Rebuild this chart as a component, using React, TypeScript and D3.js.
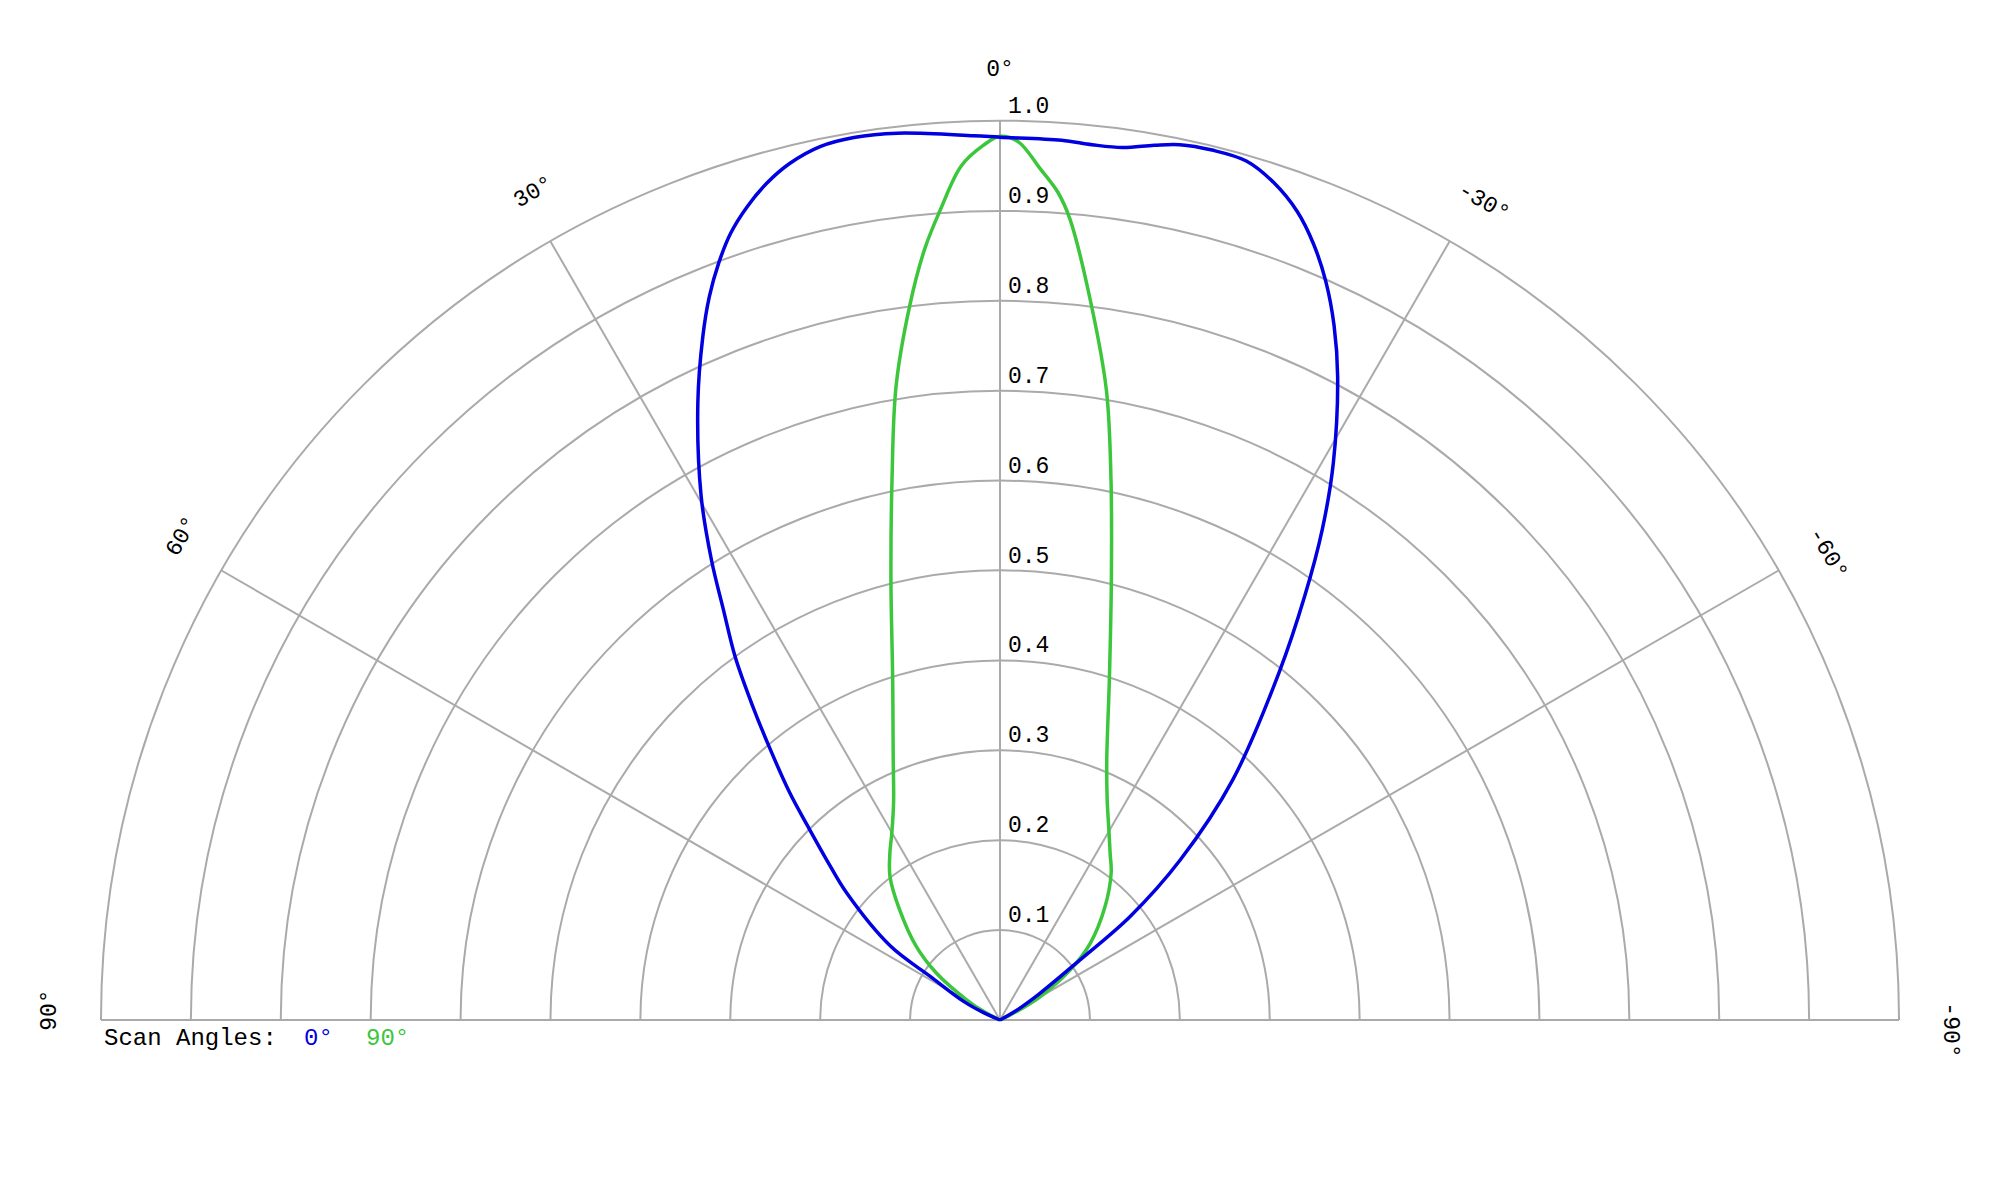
import React from 'react';
import * as d3 from 'd3';

// scan angle 0° (blue) — polar angle in degrees (+ = left), normalised value
const blueAngles = [90, 66, 63, 58, 56, 50.4, 47.3, 44.8, 42.8, 40.1, 38.1, 36.1, 34, 32.1, 29.7, 26.1, 23.5, 21.9, 20.4, 18.9, 17.3, 15.6, 13.8, 11.6, 9.4, 6.6, 1.7, 0, -4, -6, -8, -10, -11.6, -13.7, -16, -18.1, -20.2, -22, -23.8, -25.7, -27.7, -30.9, -33.3, -35.7, -38.8, -44.1, -48.4, -51.5, -53.1, -56.3, -60, -90];
const blueValues = [0, 0.02, 0.045, 0.092, 0.147, 0.221, 0.262, 0.303, 0.344, 0.4, 0.448, 0.5, 0.55, 0.604, 0.671, 0.764, 0.829, 0.867, 0.898, 0.925, 0.947, 0.966, 0.981, 0.992, 0.995, 0.993, 0.984, 0.982, 0.981, 0.979, 0.98, 0.988, 0.994, 0.996, 0.994, 0.98, 0.958, 0.931, 0.898, 0.857, 0.808, 0.722, 0.653, 0.581, 0.495, 0.372, 0.268, 0.185, 0.111, 0.053, 0.02, 0];

// scan angle 90° (green)
const greenAngles = [90, 63, 59, 53.6, 48.7, 42.3, 37.5, 33.5, 30.1, 26, 22.3, 17.5, 13.9, 11.3, 9.3, 7.2, 5.6, 4.2, 2.6, 1.1, 0, -1.2, -2.7, -4, -5, -7.3, -9.6, -11.6, -14.2, -17.8, -22.3, -26, -29.3, -33.5, -37.1, -42.8, -49.6, -54.5, -59.8, -63, -90];
const greenValues = [0, 0.02, 0.043, 0.088, 0.124, 0.166, 0.201, 0.222, 0.24, 0.27, 0.313, 0.397, 0.505, 0.613, 0.715, 0.801, 0.861, 0.904, 0.951, 0.973, 0.983, 0.977, 0.948, 0.923, 0.894, 0.801, 0.71, 0.614, 0.505, 0.398, 0.313, 0.272, 0.247, 0.222, 0.205, 0.172, 0.132, 0.096, 0.052, 0.02, 0];

const ringValues = [0.1, 0.2, 0.3, 0.4, 0.5, 0.6, 0.7, 0.8, 0.9, 1.0];
const spokeAngles = [60, 30, 0, -30, -60];
const angleLabels = [90, 60, 30, 0, -30, -60, -90];

const W = 2000;
const H = 1200;
const CX = 1000;
const CY = 1020;
const R = 899;
const FONT = '"Liberation Mono", "Courier New", monospace';
const GRID = '#aaaaaa';
const BLUE = '#0000e0';
const GREEN = '#3cc63c';

const rad = (deg: number) => (deg * Math.PI) / 180;

const App: React.FC = () => {
  const rScale = d3.scaleLinear().domain([0, 1]).range([0, R]);

  const radial = d3
    .lineRadial<[number, number]>()
    .angle(d => -rad(d[0]))
    .radius(d => rScale(d[1]))
    .curve(d3.curveCatmullRom.alpha(0.5));

  const blueData = blueAngles.map((a, i) => [a, blueValues[i]] as [number, number]);
  const greenData = greenAngles.map((a, i) => [a, greenValues[i]] as [number, number]);

  const ringPath = (v: number) => {
    const p = d3.path();
    const r = rScale(v);
    p.moveTo(-r, 0);
    p.arc(0, 0, r, Math.PI, 2 * Math.PI);
    return p.toString();
  };

  const labelR = 950;

  return (
    <svg
      width={W}
      height={H}
      style={{ position: 'absolute', left: 0, top: 0, background: '#fff' }}
      fontFamily={FONT}
    >
      <g transform={`translate(${CX},${CY})`}>
        {/* rings */}
        {ringValues.map(v => (
          <path key={v} d={ringPath(v)} fill="none" stroke={GRID} strokeWidth={2} />
        ))}
        {/* baseline (+/-90) */}
        <line x1={-rScale(1)} y1={0} x2={rScale(1)} y2={0} stroke={GRID} strokeWidth={2} />
        {/* spokes */}
        {spokeAngles.map(a => (
          <line
            key={a}
            x1={0}
            y1={0}
            x2={-rScale(1) * Math.sin(rad(a))}
            y2={-rScale(1) * Math.cos(rad(a))}
            stroke={GRID}
            strokeWidth={2}
          />
        ))}
        {/* ring labels */}
        {ringValues.map(v => (
          <text key={v} x={8} y={-rScale(v) - 8} fontSize={23} fill="#000">
            {v.toFixed(1)}
          </text>
        ))}
        {/* angle labels */}
        {angleLabels.map(a => {
          const pos = a === 0 ? 0 : a - 0.6;
          const x = -labelR * Math.sin(rad(pos));
          const y = -labelR * Math.cos(rad(pos));
          return (
            <text
              key={a}
              transform={`translate(${x},${y}) rotate(${-a})`}
              textAnchor="middle"
              dominantBaseline="middle"
              fontSize={23}
              fill="#000"
            >
              {`${a}°`}
            </text>
          );
        })}
        {/* curves */}
        <path d={radial(greenData) ?? ''} fill="none" stroke={GREEN} strokeWidth={3.5} strokeLinejoin="round" />
        <path d={radial(blueData) ?? ''} fill="none" stroke={BLUE} strokeWidth={3.5} strokeLinejoin="round" />
      </g>
      {/* legend */}
      <text x={104} y={1045} fontSize={24} fill="#000" xmlSpace="preserve">
        Scan Angles:
        <tspan x={304} fill={BLUE}>0°</tspan>
        <tspan x={366} fill={GREEN}>90°</tspan>
      </text>
    </svg>
  );
};

export default App;
